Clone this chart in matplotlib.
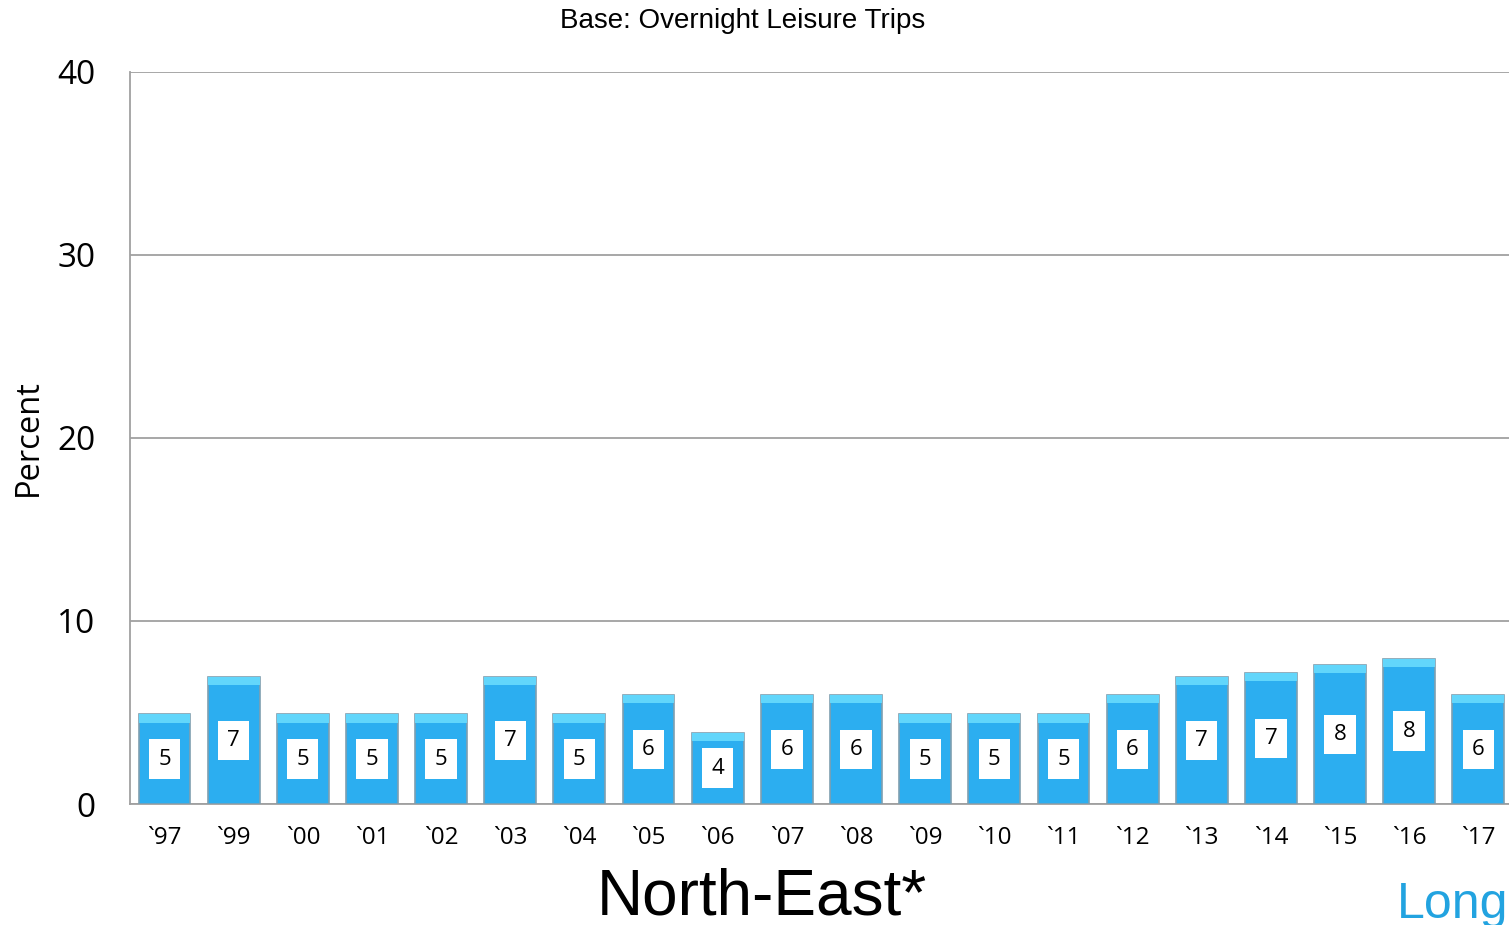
import matplotlib.pyplot as plt
import numpy as np

years = ["`97", "`99", "`00", "`01", "`02", "`03", "`04", "`05", "`06", "`07",
         "`08", "`09", "`10", "`11", "`12", "`13", "`14", "`15", "`16", "`17"]
values = [4.9, 6.95, 4.9, 4.9, 4.9, 6.95, 4.9, 5.95, 3.9, 5.95,
          5.95, 4.9, 4.9, 4.9, 5.95, 6.95, 7.15, 7.6, 7.95, 5.95]
labels = [5, 7, 5, 5, 5, 7, 5, 6, 4, 6, 6, 5, 5, 5, 6, 7, 7, 8, 8, 6]

fig = plt.figure(figsize=(15.09, 9.25), dpi=100)
ax = fig.add_axes([0.0861, 0.1308, 0.9165, 0.7914])

x = np.arange(len(years))
ax.bar(x, values, width=0.75, color="#2CAEF0", edgecolor="#7f9fb0", linewidth=1.2, zorder=3)
# lighter top cap of each bar
cap = 0.45
ax.bar(x, [cap] * len(x), bottom=np.array(values) - cap, width=0.75,
       color="#62d6fb", edgecolor="none", zorder=3.5)

for xi, v, lab in zip(x, values, labels):
    ax.text(xi, v / 2, str(lab), ha="center", va="center", fontsize=16, family="Open Sans",
            color="black", zorder=5,
            bbox=dict(boxstyle="square,pad=0.42", facecolor="white", edgecolor="none"))

ax.set_xlim(-0.5, len(x) - 0.5)
ax.set_ylim(0, 40)
ax.set_yticks([0, 10, 20, 30, 40])
ax.set_xticks(x)
ax.set_xticklabels(years, family="Open Sans", fontsize=17.5)
for t in ax.get_yticklabels():
    t.set_family("Open Sans")
    t.set_fontsize(24)
ax.tick_params(axis="y", length=0, pad=25)
ax.tick_params(axis="x", length=0, pad=16)
ax.yaxis.grid(True, color="#a0a0a0", linewidth=1.3, zorder=0)
ax.set_axisbelow(True)
for s in ["top", "right"]:
    ax.spines[s].set_visible(False)
ax.spines["left"].set_color("#a0a0a0")
ax.spines["bottom"].set_color("#a0a0a0")
ax.spines["left"].set_linewidth(1.3)
ax.spines["bottom"].set_linewidth(1.3)

fig.text(0.0185, 0.527, "Percent", rotation=90, ha="center", va="center",
         family="Open Sans", fontsize=23.5)
fig.text(0.492, 0.977, "Base: Overnight Leisure Trips", ha="center", va="center",
         family="Liberation Sans", fontsize=20)
fig.text(0.505, 0.03, "North-East*", ha="center", va="center",
         family="Liberation Sans", fontsize=46)
fig.text(0.926, 0.022, "Long", ha="left", va="center", family="Liberation Sans",
         fontsize=36, color="#22a3e0")

fig.savefig("out.png", dpi=100)
